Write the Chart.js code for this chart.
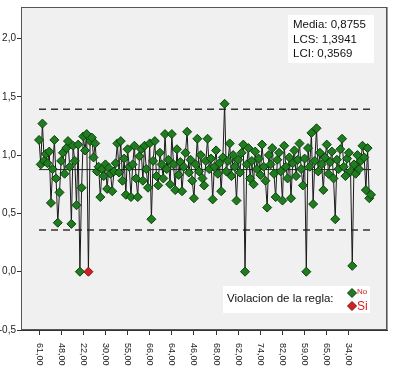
<!DOCTYPE html>
<html>
<head>
<meta charset="utf-8">
<script src="https://cdn.jsdelivr.net/npm/chart.js@4"></script>
<style>
  html, body { margin: 0; padding: 0; background: #ffffff; }
  #wrap { width: 400px; height: 383px; }
</style>
</head>
<body>
<div id="wrap"><canvas id="chartCtrl" width="400" height="383"></canvas></div>
<script>
'use strict';

// ── Data ─────────────────────────────────────────────
const values = [
  1.13, 0.92, 1.27, 0.95, 1.01, 0.93, 1.03, 0.59, 0.88, 1.13,
  0.80, 0.42, 0.68, 0.95, 1.02, 0.84, 1.06, 1.12, 0.90, 0.41,
  1.08, 0.95, 0.57, 1.09, 0.00, 0.72, 1.16, 1.04, 1.18, 0.00,
  1.12, 1.15, 0.98, 1.10, 0.86, 0.90, 0.64, 0.88, 0.82, 0.92,
  0.71, 0.89, 0.84, 0.69, 0.86, 0.93, 1.10, 0.85, 1.12, 0.78,
  0.97, 0.66, 1.05, 0.90, 0.64, 0.92, 1.08, 0.80, 0.64, 0.99,
  1.05, 0.78, 1.08, 0.88, 0.72, 1.10, 0.45, 0.95, 1.12, 0.82,
  0.74, 1.02, 0.92, 0.80, 1.18, 0.88, 0.96, 0.75, 1.18, 0.92,
  0.70, 1.05, 0.83, 0.94, 0.69, 0.90, 1.02, 1.20, 0.85, 0.96,
  0.78, 0.63, 0.92, 1.14, 0.86, 1.00, 0.80, 0.74, 0.95, 1.14,
  0.88, 0.97, 0.62, 0.90, 1.04, 0.84, 0.93, 0.69, 0.98, 1.44,
  0.86, 0.95, 1.10, 0.82, 1.00, 0.90, 0.61, 0.96, 0.85, 1.02,
  1.09, 0.00, 0.92, 1.06, 0.80, 0.95, 0.75, 1.03, 0.88, 0.97,
  0.83, 1.09, 0.90, 0.78, 0.55, 1.00, 0.92, 1.06, 0.84, 0.64,
  0.96, 1.02, 0.86, 0.61, 1.08, 0.90, 0.80, 0.98, 0.63, 0.93,
  1.04, 0.82, 0.96, 1.10, 0.88, 0.74, 0.97, 0.00, 1.06, 0.90,
  1.19, 0.58, 0.95, 1.23, 0.86, 1.02, 0.92, 0.70, 0.98, 1.09,
  0.84, 0.94, 1.03, 0.80, 0.45, 0.96, 0.88, 1.05, 1.14, 0.90,
  0.82, 0.97, 1.02, 0.86, 0.05, 0.92, 0.84, 1.00, 0.88, 0.95,
  1.08, 0.98, 0.70, 1.06, 0.63, 0.66
];
const violations  = [29];           // point indices flagged "Si"
const xTickLabels = ['61,00', '48,00', '22,00', '30,00', '55,00', '66,00', '64,00', '46,00',
                     '68,00', '62,00', '74,00', '82,00', '59,00', '65,00', '34,00'];
const xTickStep   = 13;
const yTicks      = [-0.5, 0, 0.5, 1.0, 1.5, 2.0];
const media = 0.8755;
const lcs   = 1.3941;
const lci   = 0.3569;
const statLines = ['Media: 0,8755', 'LCS: 1,3941', 'LCI: 0,3569'];

const FONT = "'Liberation Sans', Arial, sans-serif";
const GREEN = '#1f7d1f', GREEN_DK = '#0d3f0d';
const RED = '#d42020', RED_DK = '#7a1010';

const lastIdx = values.length - 1;
const pts = values.map((v, i) => ({ x: i, y: v }));
const hLine = y => [{ x: 0, y }, { x: lastIdx, y }];

// ── Helpers ──────────────────────────────────────────
function diamond(ctx, x, y, r, fill, stroke) {
  ctx.beginPath();
  ctx.moveTo(x, y - r);
  ctx.lineTo(x + r, y);
  ctx.lineTo(x, y + r);
  ctx.lineTo(x - r, y);
  ctx.closePath();
  ctx.fillStyle = fill;
  ctx.fill();
  ctx.lineWidth = 1;
  ctx.strokeStyle = stroke;
  ctx.stroke();
}

// ── Plugins ──────────────────────────────────────────
const framePlugin = {
  id: 'frame',
  beforeDraw(chart) {
    const { ctx, chartArea: a } = chart;
    ctx.save();
    ctx.fillStyle = '#f0f0f0';
    ctx.fillRect(a.left, a.top, a.right - a.left, a.bottom - a.top);
    ctx.restore();
  },
  afterDraw(chart) {
    const { ctx, chartArea: a, scales } = chart;
    ctx.save();
    // frame
    ctx.strokeStyle = '#555';
    ctx.lineWidth = 1;
    ctx.strokeRect(a.left + 0.5, a.top + 0.5, a.right - a.left - 1, a.bottom - a.top - 1);
    ctx.strokeStyle = '#999';
    ctx.beginPath();
    ctx.moveTo(a.right + 0.5, a.top);
    ctx.lineTo(a.right + 0.5, a.bottom);
    ctx.stroke();

    // x tick labels, rotated clockwise
    ctx.fillStyle = '#222';
    ctx.font = '9px ' + FONT;
    ctx.textAlign = 'left';
    ctx.textBaseline = 'middle';
    xTickLabels.forEach((lbl, i) => {
      const px = scales.x.getPixelForValue(i * xTickStep);
      ctx.save();
      ctx.translate(px, a.bottom + 13);
      ctx.rotate(Math.PI / 2);
      ctx.fillText(lbl, 0, 0);
      ctx.restore();
    });

    // stats box
    ctx.fillStyle = '#ffffff';
    ctx.fillRect(288, 15, 86, 48);
    ctx.fillStyle = '#111';
    ctx.font = '11.5px ' + FONT;
    ctx.textBaseline = 'middle';
    statLines.forEach((t, i) => ctx.fillText(t, 293, 25 + i * 14.5));

    // rule legend
    ctx.fillStyle = '#ffffff';
    ctx.fillRect(223, 286, 147, 27);
    ctx.fillStyle = '#111';
    ctx.font = '11.5px ' + FONT;
    ctx.fillText('Violacion de la regla:', 227, 299);
    diamond(ctx, 352, 293, 4.5, GREEN, GREEN_DK);
    diamond(ctx, 352, 306, 4.5, RED, RED_DK);
    ctx.font = '8px ' + FONT;
    ctx.fillText('No', 357, 292);
    ctx.font = '12px ' + FONT;
    ctx.fillText('Si', 357, 307);
    ctx.restore();
  }
};

// ── Chart ────────────────────────────────────────────
const ctx = document.getElementById('chartCtrl').getContext('2d');
new Chart(ctx, {
  type: 'line',
  data: {
    datasets: [
      {
        data: pts,
        borderColor: '#1a1a1a',
        borderWidth: 1,
        pointStyle: 'rectRot',
        pointRadius: 4.5,
        pointBorderWidth: 1,
        pointBackgroundColor: values.map((v, i) => violations.includes(i) ? RED : GREEN),
        pointBorderColor: values.map((v, i) => violations.includes(i) ? RED_DK : GREEN_DK)
      },
      { data: hLine(media), borderColor: '#222', borderWidth: 1, pointRadius: 0 },
      { data: hLine(lcs), borderColor: '#333', borderWidth: 1.5, borderDash: [7, 5], pointRadius: 0 },
      { data: hLine(lci), borderColor: '#333', borderWidth: 1.5, borderDash: [7, 5], pointRadius: 0 }
    ]
  },
  options: {
    responsive: false,
    animation: false,
    devicePixelRatio: 1,
    layout: { padding: { top: 3, right: 13, left: 0, bottom: 0 } },
    plugins: { legend: { display: false }, tooltip: { enabled: false } },
    scales: {
      x: {
        type: 'linear',
        min: -10.6,
        max: lastIdx + 9.4,
        afterBuildTicks: s => { s.ticks = xTickLabels.map((_, i) => ({ value: i * xTickStep })); },
        afterFit: s => { s.height = 53; },
        ticks: { display: false },
        grid: { drawOnChartArea: false, drawTicks: true, tickLength: 5, color: '#333' },
        border: { display: true, color: '#333' }
      },
      y: {
        min: -0.5,
        max: 2.27,
        afterBuildTicks: s => { s.ticks = yTicks.map(v => ({ value: v })); },
        afterFit: s => { s.width = 21; },
        ticks: {
          color: '#222',
          padding: 1,
          font: { size: 10, family: FONT },
          callback: v => v.toFixed(1).replace('.', ',')
        },
        grid: { drawOnChartArea: false, drawTicks: true, tickLength: 4, color: '#333' },
        border: { display: true, color: '#333' }
      }
    }
  },
  plugins: [framePlugin]
});
</script>
</body>
</html>
